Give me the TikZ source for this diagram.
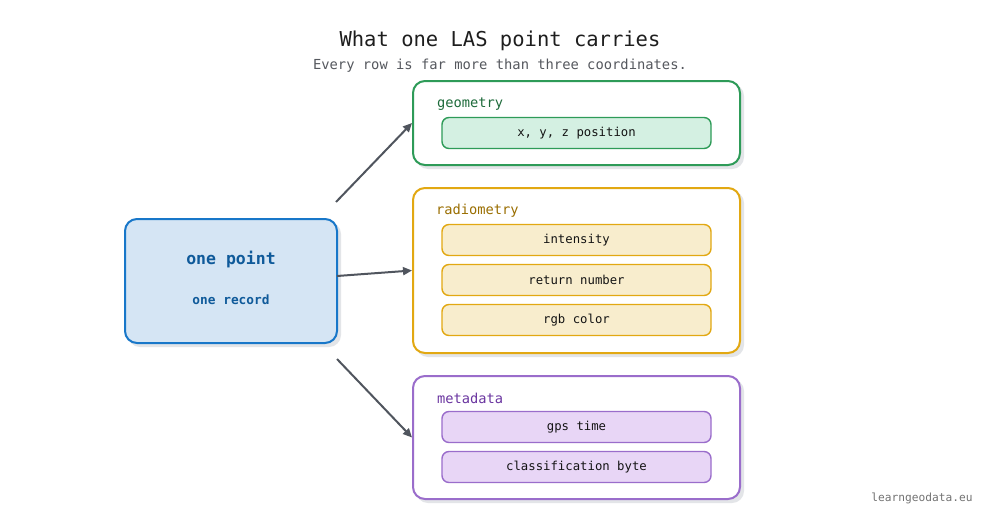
\documentclass[tikz,border=0pt]{standalone}
\usepackage{fontspec}
\setmonofont{DejaVu Sans Mono}
\usetikzlibrary{arrows.meta}
\definecolor{bluebd}{HTML}{1877C9}
\definecolor{bluefill}{HTML}{D5E5F4}
\definecolor{bluetxt}{HTML}{0F5A9A}
\definecolor{greenbd}{HTML}{2E9B58}
\definecolor{greenfill}{HTML}{D4F0E2}
\definecolor{greentxt}{HTML}{1E6B3B}
\definecolor{goldbd}{HTML}{E2A812}
\definecolor{goldfill}{HTML}{F8EDCD}
\definecolor{goldtxt}{HTML}{9A6E00}
\definecolor{purpbd}{HTML}{9A6DCB}
\definecolor{purpfill}{HTML}{E8D6F6}
\definecolor{purptxt}{HTML}{6A35A0}
\definecolor{arrowc}{HTML}{50555E}
\definecolor{titlec}{HTML}{1E1E1E}
\definecolor{subc}{HTML}{55585E}
\definecolor{itemtxt}{HTML}{141414}
\definecolor{shadowc}{HTML}{E3E5E8}
\begin{document}
\begin{tikzpicture}[x=1pt,y=-1pt,
  every node/.style={font=\ttfamily},
  groupbox/.style={draw, line width=2pt, fill=white, rounded corners=12pt, minimum width=327pt, inner sep=0pt, anchor=center},
  itembox/.style={draw, line width=1.4pt, rounded corners=7pt, minimum width=269pt, minimum height=31pt, inner sep=0pt, text=itemtxt, font=\ttfamily\fontsize{12.3}{14}\selectfont},
  grouplabel/.style={anchor=west, inner sep=0pt, font=\ttfamily\fontsize{13.7}{16}\selectfont},
  conn/.style={draw=arrowc, line width=2pt, -{Triangle[length=9pt,width=8pt]}},
  shadowbox/.style={fill=shadowc, rounded corners=12pt}
]
\useasboundingbox (0,0) rectangle (1000,530);
\fill[white] (0,0) rectangle (1000,530);

% title
\node[text=titlec, font=\ttfamily\fontsize{20.5}{24}\selectfont] (title) at (500,41) {What one LAS point carries};
\node[text=subc, font=\ttfamily\fontsize{13.8}{17}\selectfont] (sub) at (500,66) {Every row is far more than three coordinates.};

% shadows
\fill[shadowc, rounded corners=12pt] (128,222) rectangle (341,347);
\fill[shadowc, rounded corners=12pt] (416,84) rectangle (744,169);
\fill[shadowc, rounded corners=12pt] (416,191) rectangle (744,357);
\fill[shadowc, rounded corners=12pt] (416,379) rectangle (744,503);

% left box
\node[draw=bluebd, fill=bluefill, line width=2pt, rounded corners=12pt, minimum width=212pt, minimum height=124pt, inner sep=0pt] (pt) at (231,281) {};
\node[text=bluetxt, font=\ttfamily\bfseries\fontsize{16.5}{20}\selectfont] (ptlabel) at (231,260) {one point};
\node[text=bluetxt, font=\ttfamily\bfseries\fontsize{12.8}{16}\selectfont] (ptsub) at (231,300) {one record};

% group boxes
\node[groupbox, draw=greenbd, minimum height=84pt] (geo) at (576.5,123) {};
\node[groupbox, draw=goldbd, minimum height=165pt] (rad) at (576.5,270.5) {};
\node[groupbox, draw=purpbd, minimum height=123pt] (meta) at (576.5,437.5) {};

\node[grouplabel, text=greentxt] (geol) at (437,104) {geometry};
\node[grouplabel, text=goldtxt] (radl) at (436,211) {radiometry};
\node[grouplabel, text=purptxt] (metal) at (437,398) {metadata};

% items
\node[itembox, draw=greenbd, fill=greenfill] (xyz) at (576.5,133) {x, y, z position};
\node[itembox, draw=goldbd, fill=goldfill] (inten) at (576.5,240) {intensity};
\node[itembox, draw=goldbd, fill=goldfill] (retn) at (576.5,280) {return number};
\node[itembox, draw=goldbd, fill=goldfill] (rgb) at (576.5,320) {rgb color};
\node[itembox, draw=purpbd, fill=purpfill] (gps) at (576.5,427) {gps time};
\node[itembox, draw=purpbd, fill=purpfill] (cls) at (576.5,467) {classification byte};

% connectors
\coordinate (s1) at (336,202);
\coordinate (s2) at (337,276);
\coordinate (s3) at (337,359);
\draw[conn] (s1) -- (geo.west);
\draw[conn] (s2) -- (rad.west);
\draw[conn] (s3) -- (meta.west);

% watermark
\node[text=black!55, font=\ttfamily\fontsize{11.2}{13}\selectfont] (wm) at (922,498) {learngeodata.eu};
\end{tikzpicture}
\end{document}
